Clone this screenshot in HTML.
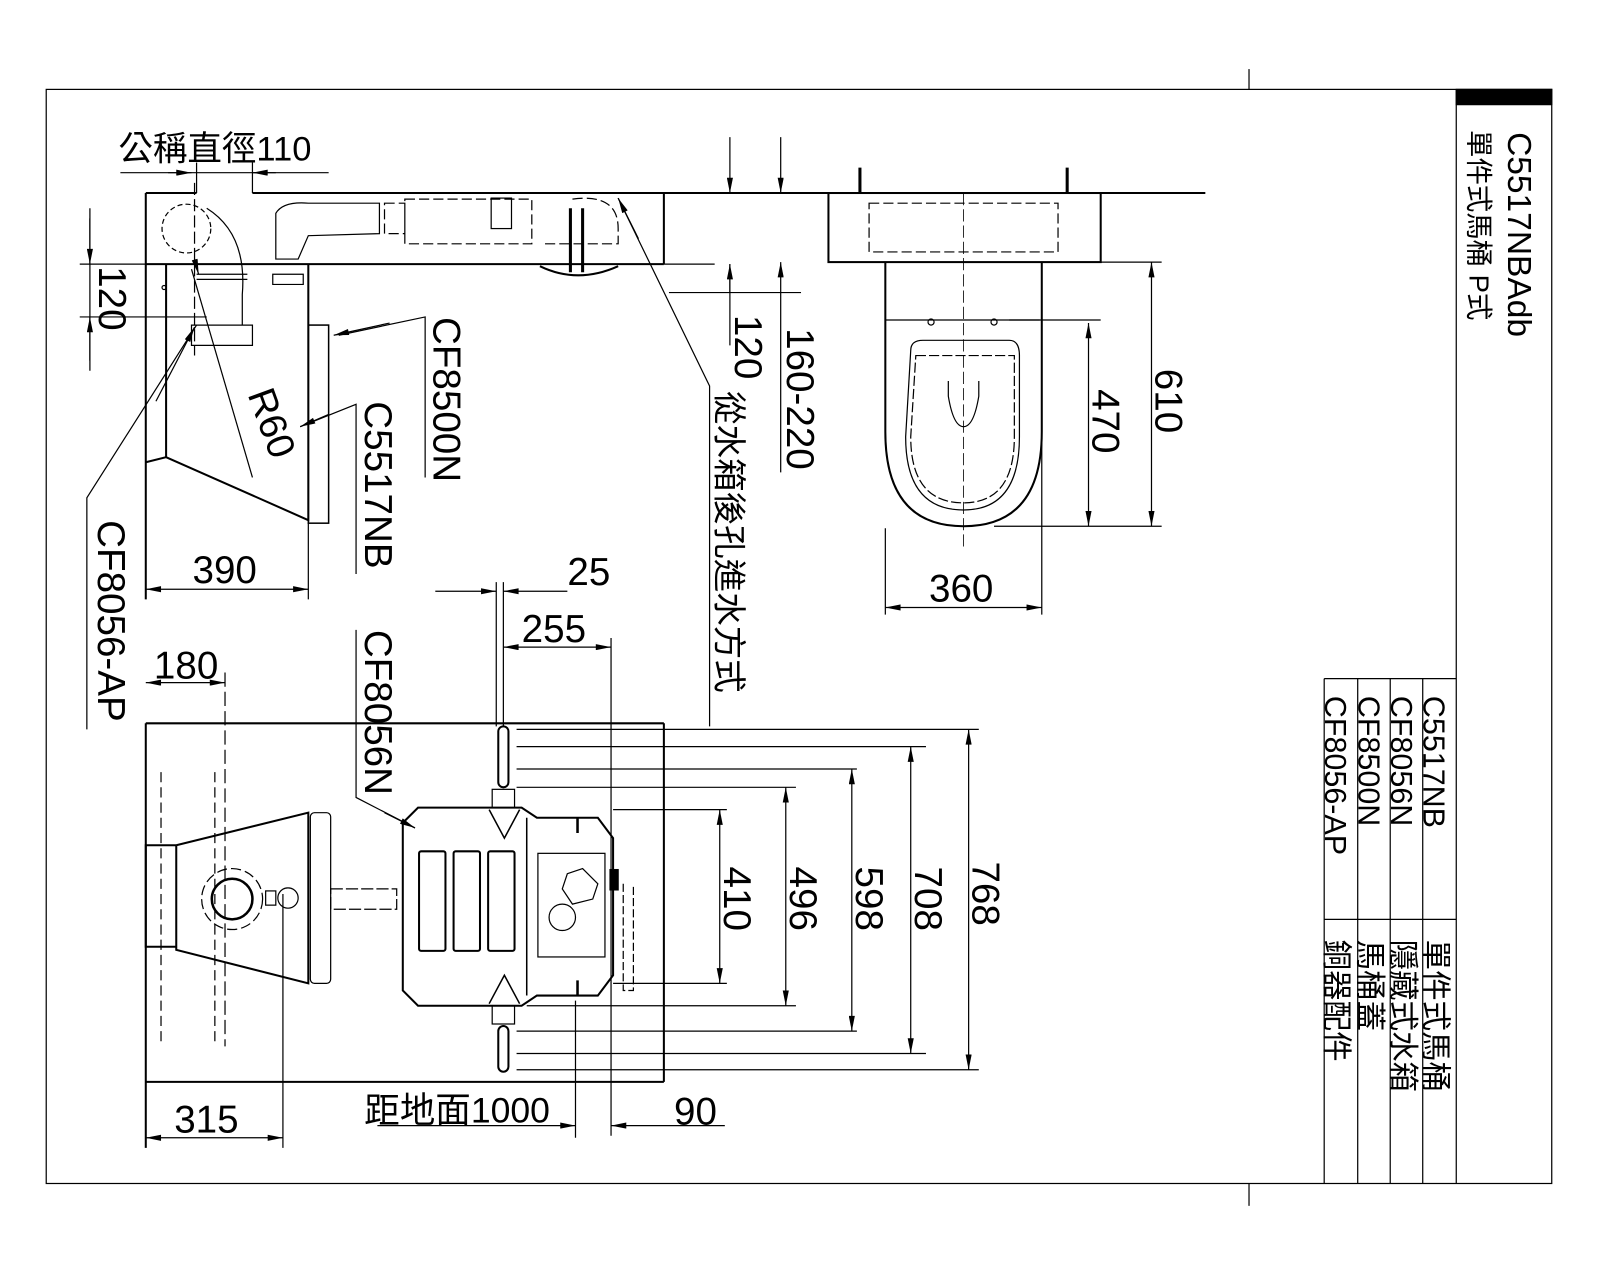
<!DOCTYPE html>
<html><head><meta charset="utf-8"><style>
html,body{margin:0;padding:0;background:#fff;}
svg{display:block;}
text{font-family:"Liberation Sans","Noto Sans CJK TC",sans-serif;fill:#000;}
</style></head><body>
<svg width="1600" height="1280" viewBox="0 0 1568 1260" xmlns="http://www.w3.org/2000/svg">
<defs>
<marker id="a" viewBox="0 0 10 4" refX="10" refY="2" markerWidth="16" markerHeight="6" markerUnits="userSpaceOnUse" orient="auto-start-reverse"><path d="M0,0L10,2L0,4z" fill="#000"/></marker>
</defs>
<g stroke="#000" fill="none" stroke-width="1.2">
<rect x="42" y="88" width="1482" height="1077"/>
<line x1="1226" y1="68" x2="1226" y2="88"/><line x1="1226" y1="1165" x2="1226" y2="1187"/>
<line x1="1430" y1="88" x2="1430" y2="1165"/>
<rect x="1430" y="88" width="94" height="15" fill="#000"/>
<line x1="1300" y1="668" x2="1430" y2="668"/>
<line x1="1300" y1="668" x2="1300" y2="1165"/><line x1="1333" y1="668" x2="1333" y2="1165"/>
<line x1="1365" y1="668" x2="1365" y2="1165"/><line x1="1397" y1="668" x2="1397" y2="1165"/>
<line x1="1300" y1="905" x2="1430" y2="905"/>

<g stroke-width="2">
<line x1="140" y1="190" x2="190" y2="190"/><line x1="245" y1="190" x2="1183" y2="190"/>
<line x1="140" y1="260" x2="650" y2="260"/>
<line x1="650" y1="190" x2="650" y2="260"/>
<line x1="140" y1="190" x2="140" y2="590"/>
<line x1="160" y1="260" x2="160" y2="450"/>
<polyline points="140,455 160,450 300,512 300,260"/>
</g>
<rect x="300" y="320" width="20" height="195" stroke-width="1.5"/>
<circle cx="180" cy="225" r="24" stroke-dasharray="5,3"/>
<path d="M200,205 Q240,230 235,290 L235,320" />
<line x1="188" y1="180" x2="188" y2="350" stroke-dasharray="12,4"/>
<path d="M190,270h50M190,275h50M185,320h60v20h-60z"/>
<path d="M265,270h30v10h-30zM268,210 Q275,198 300,200 L370,200 L370,230 L300,232 L290,255 L268,255z"/>
<path d="M375,200h20v30h-20zM395,196h125v44h-125z" stroke-dasharray="10,4"/>
<rect x="480" y="195" width="20" height="30"/>
<path d="M528,262 Q565,280 605,262" stroke-width="2"/>
<line x1="558" y1="205" x2="558" y2="268" stroke-width="3"/><line x1="570" y1="205" x2="570" y2="268" stroke-width="3"/>
<path d="M560,196 Q605,190 605,225 L605,240 L530,240" stroke-dasharray="10,4"/>
<circle cx="158" cy="283" r="2"/>
<rect x="812" y="190" width="268" height="68" stroke-width="2"/>
<rect x="852" y="200" width="186" height="48" stroke-dasharray="10,4"/>
<path d="M843,165v25M1047,165v25" stroke-width="3"/>
<path d="M868,258 V425 Q868,518 945,518 Q1022,518 1022,425 V258" stroke-width="2"/>
<path d="M868,315h152"/>
<path d="M893,345 Q893,335 905,335 H990 Q1000,335 1000,350 V430 Q1000,502 945,502 Q888,502 888,430z"/>
<path d="M898,350 H995 V430 Q995,495 945,495 Q893,495 893,430z" stroke-dasharray="10,3"/>
<path d="M930,375 V390 Q935,420 945,420 Q955,420 960,390 V375"/>
<line x1="945" y1="190" x2="945" y2="540" stroke-dasharray="12,4" stroke-width="0.8"/>
<circle cx="913" cy="317" r="3"/><circle cx="975" cy="317" r="3"/>

<g stroke-width="2">
<line x1="140" y1="712" x2="650" y2="712"/>
<line x1="140" y1="712" x2="140" y2="1130"/>
<line x1="650" y1="712" x2="650" y2="1065"/>
<line x1="140" y1="1065" x2="650" y2="1065"/>
<polyline points="170,832 140,832 140,932 170,932"/>
<polyline points="170,832 300,800 300,968 170,935 170,832"/>
</g>
<rect x="302" y="800" width="20" height="168" rx="4"/>
<line x1="155" y1="760" x2="155" y2="1030" stroke-dasharray="10,5"/>
<line x1="208" y1="760" x2="208" y2="1030" stroke-dasharray="10,5"/>
<circle cx="225" cy="885" r="20" stroke-width="2.5"/>
<circle cx="225" cy="885" r="30" stroke-dasharray="10,4"/>
<rect x="258" y="877" width="10" height="14"/>
<circle cx="280" cy="884" r="10"/>
<path d="M322,875h65v20h-65z" stroke-dasharray="12,3"/>
<path d="M408,795 H510 L525,805 H585 L600,825 V960 L585,980 H525 L510,990 H408 L393,975 V810z" stroke-width="2"/>
<path d="M478,797 L493,825 L508,797M478,988 L493,960 L508,988" stroke-width="1.5"/>
<line x1="515" y1="805" x2="515" y2="980" stroke-width="1.5"/>
<rect x="409" y="838" width="26" height="98" rx="2" stroke-width="2"/>
<rect x="443" y="838" width="26" height="98" rx="2" stroke-width="2"/>
<rect x="477" y="838" width="26" height="98" rx="2" stroke-width="2"/>
<rect x="526" y="840" width="66" height="102"/>
<path d="M555,860 l15,-5 l15,15 l-5,15 l-20,5 l-10,-15z"/>
<circle cx="550" cy="903" r="13"/>
<rect x="597" y="856" width="8" height="20" fill="#000"/>
<path d="M610,870 V975 H620 V870" stroke-dasharray="8,3"/>
<rect x="487" y="715" width="10" height="60" rx="5" stroke-width="2"/>
<rect x="481" y="777" width="22" height="18"/>
<rect x="481" y="990" width="22" height="18"/>
<rect x="487" y="1010" width="10" height="45" rx="5" stroke-width="2"/>
<path d="M565,805v15M565,965v15" stroke-width="2.5"/>

<path d="M505,718H960M505,735H908M505,757H840M505,775H780M600,797H712M600,968H712M515,990H780M505,1015H840M505,1037H908M505,1053H960"/>

<line x1="115" y1="170" x2="320" y2="170"/>
<line x1="162" y1="170" x2="185" y2="170" marker-end="url(#a)"/>
<line x1="268" y1="170" x2="245" y2="170" marker-end="url(#a)"/>
<line x1="190" y1="160" x2="190" y2="190"/><line x1="245" y1="160" x2="245" y2="190"/>
<line x1="85" y1="205" x2="85" y2="365"/>
<line x1="85" y1="215" x2="85" y2="260" marker-end="url(#a)"/>
<line x1="85" y1="355" x2="85" y2="312" marker-end="url(#a)"/>
<line x1="75" y1="260" x2="140" y2="260"/><line x1="75" y1="312" x2="200" y2="312"/>
<line x1="140" y1="580" x2="300" y2="580" marker-start="url(#a)" marker-end="url(#a)"/>
<line x1="300" y1="515" x2="300" y2="590"/>
<polyline points="82,718 82,490 190,320"/>
<line x1="150" y1="395" x2="188" y2="322" marker-end="url(#a)"/>
<line x1="185" y1="265" x2="245" y2="470"/>
<line x1="188" y1="255" x2="192" y2="270" marker-end="url(#a)"/>
<polyline points="415,470 415,312 330,330" />
<line x1="380" y1="318" x2="325" y2="330" marker-end="url(#a)"/>
<polyline points="347,565 347,398 292,420"/>
<line x1="320" y1="408" x2="292" y2="420" marker-end="url(#a)"/>
<polyline points="695,715 695,380 605,195"/>
<line x1="625" y1="235" x2="605" y2="195" marker-end="url(#a)"/>
<path d="M650,260H700M655,288H785"/>
<line x1="715" y1="135" x2="715" y2="190" marker-end="url(#a)"/>
<line x1="715" y1="340" x2="715" y2="260" marker-end="url(#a)"/>
<line x1="765" y1="135" x2="765" y2="190" marker-end="url(#a)"/>
<line x1="765" y1="465" x2="765" y2="258" marker-end="url(#a)"/>
<line x1="715" y1="260" x2="715" y2="288" />
<path d="M1080,258H1140M975,518H1140M990,315H1080"/>
<line x1="1130" y1="258" x2="1130" y2="518" marker-start="url(#a)" marker-end="url(#a)"/>
<line x1="1068" y1="318" x2="1068" y2="518" marker-start="url(#a)" marker-end="url(#a)"/>
<line x1="868" y1="520" x2="868" y2="605"/><line x1="1022" y1="425" x2="1022" y2="605"/>
<line x1="868" y1="598" x2="1022" y2="598" marker-start="url(#a)" marker-end="url(#a)"/>
<line x1="705" y1="797" x2="705" y2="968" marker-start="url(#a)" marker-end="url(#a)"/>
<line x1="770" y1="775" x2="770" y2="990" marker-start="url(#a)" marker-end="url(#a)"/>
<line x1="835" y1="757" x2="835" y2="1015" marker-start="url(#a)" marker-end="url(#a)"/>
<line x1="893" y1="735" x2="893" y2="1037" marker-start="url(#a)" marker-end="url(#a)"/>
<line x1="950" y1="718" x2="950" y2="1053" marker-start="url(#a)" marker-end="url(#a)"/>
<line x1="485" y1="573" x2="485" y2="715"/><line x1="492" y1="573" x2="492" y2="715"/>
<line x1="425" y1="582" x2="485" y2="582" marker-end="url(#a)"/>
<line x1="555" y1="582" x2="492" y2="582" marker-end="url(#a)"/>
<line x1="598" y1="628" x2="598" y2="1118"/>
<line x1="492" y1="637" x2="598" y2="637" marker-start="url(#a)" marker-end="url(#a)"/>
<line x1="218" y1="662" x2="218" y2="1030" stroke-dasharray="14,5"/>
<line x1="140" y1="672" x2="218" y2="672" marker-start="url(#a)" marker-end="url(#a)"/>
<line x1="275" y1="880" x2="275" y2="1130"/>
<line x1="140" y1="1120" x2="275" y2="1120" marker-start="url(#a)" marker-end="url(#a)"/>
<line x1="563" y1="985" x2="563" y2="1120"/>
<line x1="368" y1="1108" x2="563" y2="1108" marker-end="url(#a)"/>
<line x1="710" y1="1108" x2="598" y2="1108" marker-end="url(#a)"/>
<polyline points="347,620 347,785 405,815"/>
<line x1="375" y1="800" x2="405" y2="815" marker-end="url(#a)"/>
</g>

<g font-size="38">
<text x="113" y="158" font-size="34">公稱直徑110</text>
<text x="186" y="574">390</text>
<text x="911" y="592">360</text>
<text x="555" y="576">25</text>
<text x="510" y="632">255</text>
<text x="148" y="668">180</text>
<text x="168" y="1115">315</text>
<text x="355" y="1105" font-size="35">距地面1000</text>
<text x="660" y="1107">90</text>
<text transform="translate(94,262) rotate(90)">120</text>
<text transform="translate(93,512) rotate(90)">CF8056-AP</text>
<text transform="translate(240,388) rotate(70)">R60</text>
<text transform="translate(423,312) rotate(90)">CF8500N</text>
<text transform="translate(356,395) rotate(90)">C5517NB</text>
<text transform="translate(356,620) rotate(90)">CF8056N</text>
<text transform="translate(720,310) rotate(90)">120</text>
<text transform="translate(771,323) rotate(90)">160-220</text>
<text transform="translate(1072,383) rotate(90)">470</text>
<text transform="translate(1134,363) rotate(90)">610</text>
<text transform="translate(709,853) rotate(90)">410</text>
<text transform="translate(774,853) rotate(90)">496</text>
<text transform="translate(839,853) rotate(90)">598</text>
<text transform="translate(897,853) rotate(90)">708</text>
<text transform="translate(954,848) rotate(90)">768</text>
</g>
<text transform="translate(703,385) rotate(90)" font-size="33">從水箱後孔進水方式</text>

<text transform="translate(1481,130) rotate(90)" font-size="33">C5517NBAdb</text>
<text transform="translate(1443,128) rotate(90)" font-size="27">單件式馬桶 P式</text>

<g font-size="30">
<text transform="translate(1398,685) rotate(90)">C5517NB</text>
<text transform="translate(1366,685) rotate(90)">CF8056N</text>
<text transform="translate(1334,685) rotate(90)">CF8500N</text>
<text transform="translate(1301,685) rotate(90)">CF8056-AP</text>
<text transform="translate(1399,925) rotate(90)">單件式馬桶</text>
<text transform="translate(1367,925) rotate(90)">隱藏式水箱</text>
<text transform="translate(1335,925) rotate(90)">馬桶蓋</text>
<text transform="translate(1302,925) rotate(90)">銅器配件</text>
</g>
</svg>
</body></html>
